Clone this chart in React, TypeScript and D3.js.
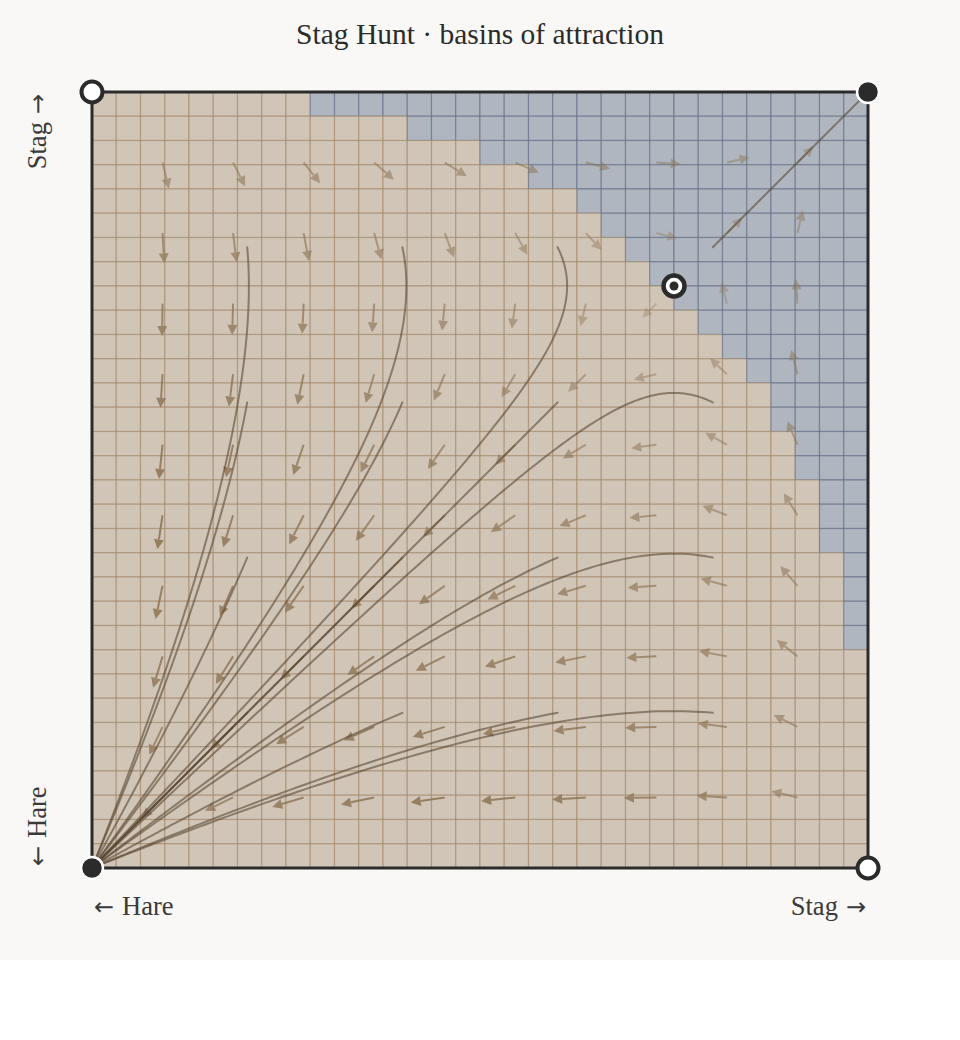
import React from 'react';
import * as d3 from 'd3';

const TITLE = 'Stag Hunt · basins of attraction';
const X_LABELS = [['←', 'Hare'], ['Stag', '→']];
const Y_LABELS = [['←', 'Hare'], ['Stag', '→']];

// payoff to a player choosing [Stag, Hare] against an opponent playing [Stag, Hare]
const PAYOFF_STAG = [4, 0];
const PAYOFF_HARE = [3, 3];

// basin grid: 32 x 32 cells, first stag-basin column in each row (top row first)
const N_CELLS = 32;
const STAG_BASIN_START = [
  9, 13, 16, 18, 20, 21, 22, 23, 24, 25, 26, 27, 28, 28, 29, 29,
  30, 30, 30, 31, 31, 31, 31, 32, 32, 32, 32, 32, 32, 32, 32, 32,
];

// vector-field sample positions
const ARROW_TICKS = [1 / 11, 2 / 11, 3 / 11, 4 / 11, 5 / 11, 6 / 11, 7 / 11, 8 / 11, 9 / 11, 10 / 11];
// streamline seeds
const SEED_TICKS = [0.2, 0.4, 0.6, 0.8];

const STABLE_POINTS = [[0, 0], [1, 1]];
const UNSTABLE_POINTS = [[0, 1], [1, 0]];
const SADDLE_POINTS = [[0.75, 0.75]];

const W = 960;
const H = 960;
const PLOT = { left: 92, right: 868, top: 92, bottom: 868 };

const C = {
  page: '#f9f8f6',
  hare: '#d1c5b8',
  hareLine: '#9a8060',
  stag: '#b0b6c0',
  stagLine: '#56637a',
  arrow: '#8c7353',
  stream: '#5a4832',
  ink: '#2b2b2b',
  text: '#3a3a3a',
};

const FONT = '"Liberation Serif", "DejaVu Serif", serif';
const ARROW_FONT = '"DejaVu Sans", sans-serif';

function field(x: number, y: number): [number, number] {
  const fs = (o: number) => o * PAYOFF_STAG[0] + (1 - o) * PAYOFF_STAG[1];
  const fh = (o: number) => o * PAYOFF_HARE[0] + (1 - o) * PAYOFF_HARE[1];
  return [x * (1 - x) * (fs(y) - fh(y)), y * (1 - y) * (fs(x) - fh(x))];
}

function integrate(x0: number, y0: number): [number, number][] {
  const pts: [number, number][] = [[x0, y0]];
  let x = x0;
  let y = y0;
  const dt = 0.02;
  for (let i = 0; i < 20000; i++) {
    const k1 = field(x, y);
    const k2 = field(x + (dt / 2) * k1[0], y + (dt / 2) * k1[1]);
    const k3 = field(x + (dt / 2) * k2[0], y + (dt / 2) * k2[1]);
    const k4 = field(x + dt * k3[0], y + dt * k3[1]);
    x += (dt / 6) * (k1[0] + 2 * k2[0] + 2 * k3[0] + k4[0]);
    y += (dt / 6) * (k1[1] + 2 * k2[1] + 2 * k3[1] + k4[1]);
    pts.push([x, y]);
    const near = STABLE_POINTS.find((p) => Math.hypot(p[0] - x, p[1] - y) < 0.002);
    if (near) {
      pts.push([near[0], near[1]]);
      break;
    }
  }
  return pts;
}

function Label({ parts, arrowFirst }: { parts: string[]; arrowFirst: boolean }) {
  if (arrowFirst) {
    return (
      <>
        <tspan fontFamily={ARROW_FONT} fontSize={24}>{parts[0]}</tspan>
        <tspan dx={8}>{parts[1]}</tspan>
      </>
    );
  }
  return (
    <>
      <tspan>{parts[0]}</tspan>
      <tspan dx={8} fontFamily={ARROW_FONT} fontSize={24}>{parts[1]}</tspan>
    </>
  );
}

export default function App() {
  const sx = d3.scaleLinear().domain([0, 1]).range([PLOT.left, PLOT.right]);
  const sy = d3.scaleLinear().domain([0, 1]).range([PLOT.bottom, PLOT.top]);
  const cellIdx = d3.range(N_CELLS);
  const cx = d3.scaleBand<number>().domain(cellIdx).range([PLOT.left, PLOT.right]);
  const cy = d3.scaleBand<number>().domain(cellIdx).range([PLOT.top, PLOT.bottom]);

  // arrows
  const samples: { x: number; y: number; v: [number, number]; m: number }[] = [];
  ARROW_TICKS.forEach((ay) =>
    ARROW_TICKS.forEach((ax) => {
      const v = field(ax, ay);
      samples.push({ x: ax, y: ay, v, m: Math.hypot(v[0], v[1]) });
    })
  );
  const maxM = d3.max(samples, (d) => d.m) || 1;
  const lenScale = d3.scaleSqrt().domain([0, 1]).range([16.5, 38.5]);
  const opScale = d3.scaleSqrt().domain([0, maxM]).range([0.2, 0.85]);
  const headLen = 10;
  const headW = 5;

  const line = d3
    .line<[number, number]>()
    .x((d) => sx(d[0]))
    .y((d) => sy(d[1]))
    .curve(d3.curveLinear);

  const streams: [number, number][][] = [];
  SEED_TICKS.forEach((y0) => SEED_TICKS.forEach((x0) => streams.push(integrate(x0, y0))));

  return (
    <svg
      width={W}
      height={H}
      style={{ position: 'absolute', left: 0, top: 0, background: C.page, display: 'block' }}
    >
      <rect x={0} y={0} width={W} height={H} fill={C.page} />
      <text x={W / 2} y={44} textAnchor="middle" fontFamily={FONT} fontSize={29.5} fill={C.ink}>
        {TITLE}
      </text>

      <g>
        {cellIdx.map((r) =>
          cellIdx.map((c) => {
            const stag = c >= STAG_BASIN_START[r];
            return (
              <rect
                key={`${r}-${c}`}
                x={cx(c)}
                y={cy(r)}
                width={cx.bandwidth()}
                height={cy.bandwidth()}
                fill={stag ? C.stag : C.hare}
                stroke={stag ? C.stagLine : C.hareLine}
                strokeOpacity={0.55}
                strokeWidth={1.2}
              />
            );
          })
        )}
      </g>

      <g>
        {samples.map((s, i) => {
          const px = sx(s.x);
          const py = sy(s.y);
          const dx = s.v[0];
          const dy = -s.v[1];
          const n = Math.hypot(dx, dy) || 1;
          const ux = dx / n;
          const uy = dy / n;
          const L = lenScale(s.m);
          const tx = px + ux * L;
          const ty = py + uy * L;
          const bx = tx - ux * headLen;
          const by = ty - uy * headLen;
          const op = opScale(s.m);
          return (
            <g key={i} opacity={op}>
              <line x1={px} y1={py} x2={bx} y2={by} stroke={C.arrow} strokeWidth={2} />
              <path
                d={`M${tx},${ty}L${bx - uy * headW},${by + ux * headW}L${bx + uy * headW},${by - ux * headW}Z`}
                fill={C.arrow}
              />
            </g>
          );
        })}
      </g>

      <g fill="none" stroke={C.stream} strokeWidth={2} strokeOpacity={0.6} strokeLinecap="round">
        {streams.map((s, i) => (
          <path key={i} d={line(s) || ''} />
        ))}
      </g>

      <rect
        x={PLOT.left}
        y={PLOT.top}
        width={PLOT.right - PLOT.left}
        height={PLOT.bottom - PLOT.top}
        fill="none"
        stroke={C.ink}
        strokeWidth={3}
      />

      {UNSTABLE_POINTS.map((p, i) => (
        <circle key={`u${i}`} cx={sx(p[0])} cy={sy(p[1])} r={10.5} fill="#fff" stroke={C.ink} strokeWidth={4} />
      ))}
      {STABLE_POINTS.map((p, i) => (
        <circle key={`s${i}`} cx={sx(p[0])} cy={sy(p[1])} r={11} fill={C.ink} stroke="#fff" strokeWidth={2.5} />
      ))}
      {SADDLE_POINTS.map((p, i) => (
        <g key={`d${i}`}>
          <circle cx={sx(p[0])} cy={sy(p[1])} r={10.5} fill="#fff" stroke={C.ink} strokeWidth={4.5} />
          <circle cx={sx(p[0])} cy={sy(p[1])} r={4.5} fill={C.ink} />
        </g>
      ))}

      <g fontFamily={FONT} fontSize={26.5} fill={C.text}>
        <text x={PLOT.left + 2} y={915} textAnchor="start">
          <Label parts={X_LABELS[0]} arrowFirst />
        </text>
        <text x={PLOT.right - 2} y={915} textAnchor="end">
          <Label parts={X_LABELS[1]} arrowFirst={false} />
        </text>
        <text transform={`translate(46,${PLOT.bottom - 2}) rotate(-90)`} textAnchor="start">
          <Label parts={Y_LABELS[0]} arrowFirst />
        </text>
        <text transform={`translate(46,${PLOT.top + 2}) rotate(-90)`} textAnchor="end">
          <Label parts={Y_LABELS[1]} arrowFirst={false} />
        </text>
      </g>
    </svg>
  );
}
